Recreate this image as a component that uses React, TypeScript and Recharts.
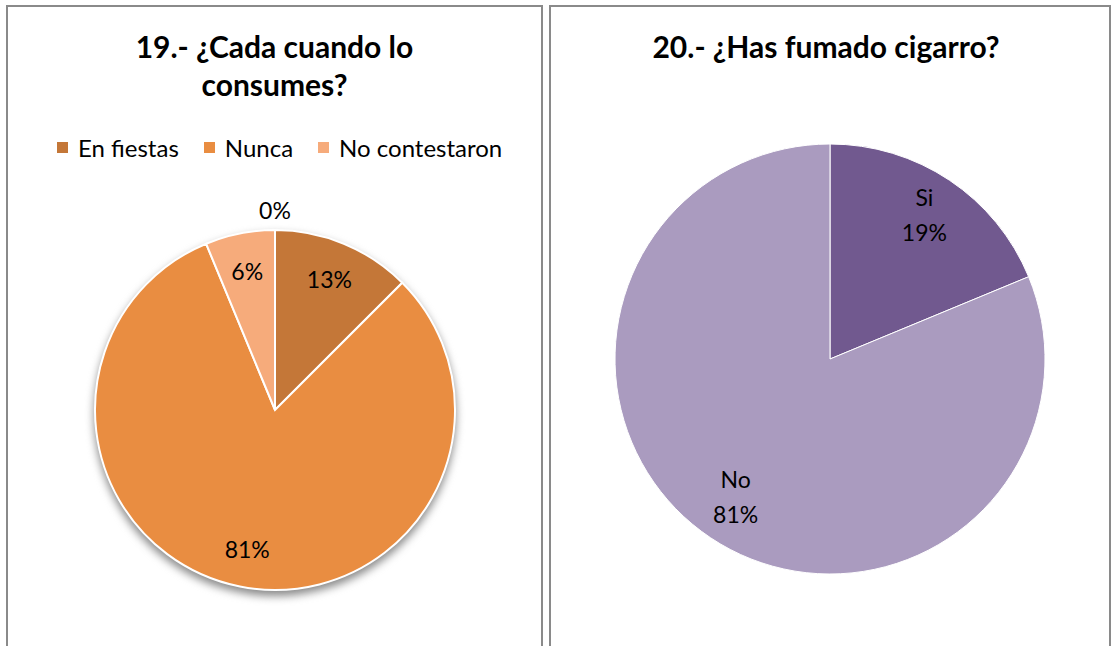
import { PieChart, Pie, Cell } from "recharts";

// 19.- ¿Cada cuando lo consumes?  (respuestas, 16 encuestados)
const consumoCategorias = ["En fiestas", "Nunca", "No contestaron", "Otro"];
const consumoValores = [2, 13, 1, 0];
const consumoColores = ["#C47738", "#E98D41", "#F6AB7B", "#F6AB7B"];
const consumoLeyenda = ["En fiestas", "Nunca", "No contestaron"];

// 20.- ¿Has fumado cigarro?
const fumadoCategorias = ["Si", "No"];
const fumadoValores = [3, 13];
const fumadoColores = ["#71598F", "#AA9BBF"];

const consumoData = consumoCategorias.map((name, i) => ({ name, value: consumoValores[i] }));
const fumadoData = fumadoCategorias.map((name, i) => ({ name, value: fumadoValores[i] }));
const consumoTotal = consumoValores.reduce((a, b) => a + b, 0);

const FONT = "Lato, 'Open Sans', sans-serif";
const RAD = Math.PI / 180;
const NO_MARGIN = { top: 0, right: 0, bottom: 0, left: 0 };

function pct(p: number) {
  return Math.round(p * 100) + "%";
}

function ConsumoLabel(props: any) {
  const { cx, cy, midAngle, outerRadius, percent } = props;
  const r = percent === 0 ? outerRadius + 20 : outerRadius * 0.79;
  const x = cx + r * Math.cos(-midAngle * RAD);
  const y = cy + r * Math.sin(-midAngle * RAD);
  return (
    <text x={x} y={y} textAnchor="middle" dominantBaseline="central" fill="#000" fontSize={23} fontFamily={FONT}>
      {pct(percent)}
    </text>
  );
}

function FumadoLabel(props: any) {
  const { cx, cy, midAngle, outerRadius, percent, name } = props;
  const r = outerRadius * 0.79;
  const x = cx + r * Math.cos(-midAngle * RAD);
  const y = cy + r * Math.sin(-midAngle * RAD);
  return (
    <text x={x} y={y} textAnchor="middle" fill="#000" fontSize={23} fontFamily={FONT}>
      <tspan x={x} dy={-12}>{name}</tspan>
      <tspan x={x} dy={35}>{pct(percent)}</tspan>
    </text>
  );
}

const panel: React.CSSProperties = {
  position: "absolute",
  top: 5,
  height: 700,
  border: "2px solid #8a8a8a",
  background: "#fff",
  boxSizing: "border-box",
};

const title: React.CSSProperties = {
  position: "absolute",
  left: 0,
  right: 0,
  textAlign: "center",
  fontFamily: FONT,
  fontWeight: 700,
  fontSize: 30,
  lineHeight: "38px",
  color: "#000",
  whiteSpace: "nowrap",
};

export default function App() {
  return (
    <div style={{ position: "absolute", left: 0, top: 0, width: 1117, height: 646, overflow: "hidden", background: "#fff" }}>
      <div style={{ ...panel, left: 6, width: 537 }}>
        <div style={{ ...title, top: 20 }}>
          19.- ¿Cada cuando lo
          <br />
          consumes?
        </div>
        <div
          style={{
            position: "absolute",
            top: 126,
            left: 49,
            display: "flex",
            alignItems: "center",
            fontFamily: FONT,
            fontSize: 24,
            color: "#000",
            whiteSpace: "nowrap",
          }}
        >
          {consumoLeyenda.map((name, i) => (
            <div key={name} style={{ display: "flex", alignItems: "center", marginRight: 25 }}>
              <span style={{ width: 11, height: 11, background: consumoColores[i], marginRight: 10, display: "inline-block" }} />
              <span>{name}</span>
            </div>
          ))}
        </div>
        <div style={{ position: "absolute", left: 0, top: 0 }}>
          <PieChart width={533} height={690} margin={NO_MARGIN}>
            <Pie
              data={[{ name: "sombra", value: consumoTotal }]}
              dataKey="value"
              cx={267}
              cy={408}
              outerRadius={181}
              startAngle={90}
              endAngle={-270}
              stroke="none"
              isAnimationActive={false}
              legendType="none"
            >
              <Cell fill="#8a8a8a" style={{ filter: "blur(4px)" }} />
            </Pie>
            <Pie
              data={consumoData}
              dataKey="value"
              nameKey="name"
              cx={267}
              cy={403}
              outerRadius={180}
              startAngle={90}
              endAngle={-270}
              stroke="#fff"
              strokeWidth={2}
              label={ConsumoLabel}
              labelLine={false}
              isAnimationActive={false}
            >
              {consumoData.map((d, i) => (
                <Cell key={d.name} fill={consumoColores[i]} />
              ))}
            </Pie>
          </PieChart>
        </div>
      </div>

      <div style={{ ...panel, left: 549, width: 562 }}>
        <div style={{ ...title, top: 20, left: -8 }}>20.- ¿Has fumado cigarro?</div>
        <div style={{ position: "absolute", left: 0, top: 0 }}>
          <PieChart width={558} height={690} margin={NO_MARGIN}>
            <Pie
              data={fumadoData}
              dataKey="value"
              nameKey="name"
              cx={279}
              cy={352}
              outerRadius={215}
              startAngle={90}
              endAngle={-270}
              stroke="#fff"
              strokeWidth={1}
              label={FumadoLabel}
              labelLine={false}
              isAnimationActive={false}
            >
              {fumadoData.map((d, i) => (
                <Cell key={d.name} fill={fumadoColores[i]} />
              ))}
            </Pie>
          </PieChart>
        </div>
      </div>
    </div>
  );
}
